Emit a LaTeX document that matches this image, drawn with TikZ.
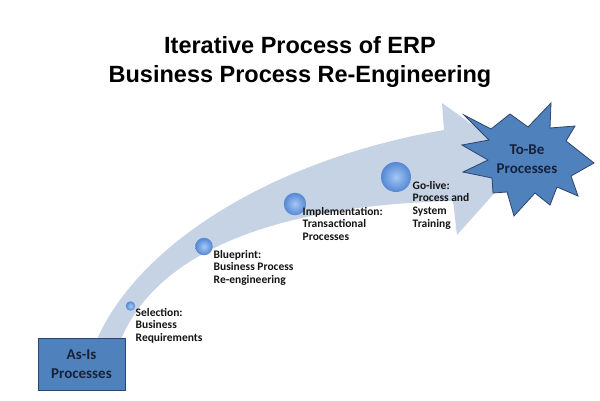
\documentclass[tikz,border=0pt]{standalone}
\usepackage{fontspec}
\setmainfont{Carlito}
\newfontfamily\titlefont{Liberation Sans}
\definecolor{bandc}{RGB}{198,211,229}
\definecolor{boxblue}{RGB}{79,129,189}
\definecolor{boxedge}{RGB}{45,68,110}
\definecolor{navy}{RGB}{22,34,58}
\definecolor{ballin}{RGB}{165,200,245}
\definecolor{ballout}{RGB}{85,135,212}
\definecolor{labelc}{RGB}{20,20,20}
\begin{document}
\begin{tikzpicture}[x=1pt,y=-1pt,
  titlestyle/.style={font=\titlefont\bfseries\fontsize{23.5}{28}\selectfont, text=black, inner sep=0, anchor=base},
  blockbox/.style={draw=boxedge, line width=0.8pt, fill=boxblue, text=navy, align=center,
    font=\bfseries\fontsize{15}{18.5}\selectfont, minimum width=87pt, minimum height=52pt, inner sep=0},
  startext/.style={text=navy, align=center, font=\bfseries\fontsize{15}{18.5}\selectfont, inner sep=0},
  ballnode/.style={circle, inner sep=0, shading=radial, inner color=ballin, outer color=ballout},
  steplabel/.style={anchor=north west, align=left, inner sep=0, text=labelc,
    font=\bfseries\fontsize{11.5}{12.6}\selectfont}
]
\useasboundingbox (0,0) rectangle (600,400);
\fill[white] (0,0) rectangle (600,400);

% title
\node[titlestyle] (t1) at (300,53) {Iterative Process of ERP};
\node[titlestyle] (t2) at (300,82) {Business Process Re-Engineering};

% curved arrow band
\fill[bandc] (98,348) -- (98,337) .. controls (140,245) and (270,160) .. (444,130)
  -- (442,103) -- (523,161) -- (457,235) -- (453,201)
  .. controls (280,205) and (160,250) .. (122,337) -- (122,348) -- cycle;

% As-Is box
\node[blockbox] (asis) at (81.5,364) {As-Is\\Processes};

% star
\draw[boxedge, line width=0.8pt, fill=boxblue, line join=miter]
  (464,115) -- (491,129) -- (510,114) -- (528,127) -- (551,103) -- (550,128)
  -- (575,126) -- (566,141) -- (594,163) -- (571,176) -- (578,196) -- (557,187)
  -- (550,205) -- (535,193) -- (514,216) -- (507,192) -- (493,193) -- (492,178)
  -- (463,172) -- (488,160) -- (462,145) -- (489,140) -- cycle;
\node[startext] (tobe) at (527,159) {To-Be\\Processes};

% milestone balls
\node[ballnode, minimum size=9.5pt] (b1) at (130.5,306) {};
\node[ballnode, minimum size=17.5pt] (b2) at (204,246.5) {};
\node[ballnode, minimum size=22.5pt] (b3) at (295,204) {};
\node[ballnode, minimum size=30pt] (b4) at (396,177) {};

% labels
\node[steplabel] (l1) at (135.5,308) {Selection:\\Business\\Requirements};
\node[steplabel] (l2) at (213.5,250) {Blueprint:\\Business Process\\Re-engineering};
\node[steplabel] (l3) at (302.5,207) {Implementation:\\Transactional\\Processes};
\node[steplabel] (l4) at (412.5,181) {Go-live:\\Process and\\System\\Training};
\end{tikzpicture}
\end{document}
